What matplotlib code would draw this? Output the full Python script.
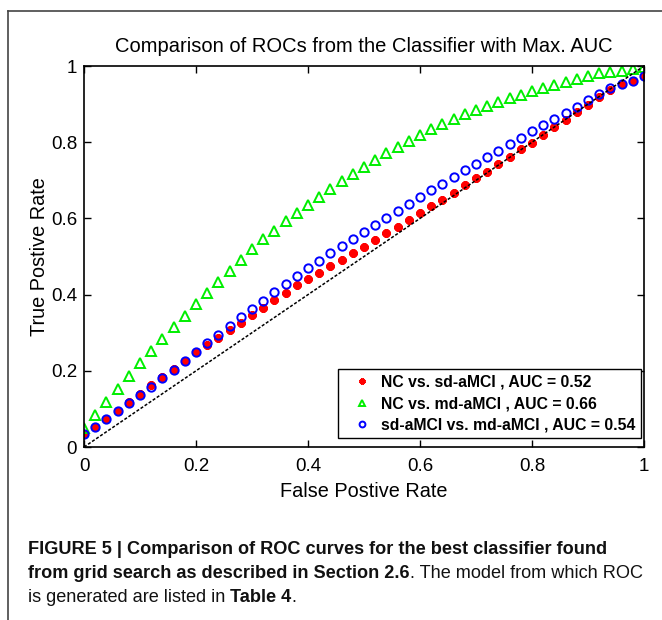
import numpy as np
import matplotlib
matplotlib.use("Agg")
import matplotlib.pyplot as plt
from matplotlib.lines import Line2D

plt.rcParams['font.family'] = ['Liberation Sans', 'DejaVu Sans']

# false positive rate grid (0 to 1, step 0.02)
fpr = [i / 50 for i in range(51)]

tpr_nc_sd = [0.033, 0.053, 0.074, 0.095, 0.117, 0.139, 0.162, 0.184, 0.205, 0.227, 0.250,
             0.268, 0.287, 0.306, 0.326, 0.347, 0.366, 0.386, 0.404, 0.424, 0.441,
             0.458, 0.476, 0.492, 0.509, 0.526, 0.544, 0.561, 0.578, 0.596, 0.614,
             0.632, 0.649, 0.668, 0.687, 0.705, 0.723, 0.742, 0.761, 0.781, 0.799,
             0.818, 0.839, 0.859, 0.879, 0.899, 0.918, 0.936, 0.952, 0.962, 0.974]

tpr_nc_md = [0.051, 0.085, 0.119, 0.153, 0.187, 0.220, 0.253, 0.283, 0.314, 0.343, 0.375,
             0.404, 0.434, 0.463, 0.492, 0.521, 0.547, 0.568, 0.592, 0.615, 0.636,
             0.656, 0.676, 0.697, 0.717, 0.736, 0.753, 0.771, 0.788, 0.803, 0.818,
             0.835, 0.848, 0.861, 0.873, 0.885, 0.896, 0.906, 0.917, 0.925, 0.935,
             0.942, 0.950, 0.958, 0.965, 0.973, 0.981, 0.985, 0.988, 0.991, 0.997]

tpr_sd_md = [0.033, 0.053, 0.074, 0.094, 0.115, 0.136, 0.158, 0.181, 0.203, 0.226, 0.250,
             0.272, 0.295, 0.318, 0.340, 0.362, 0.384, 0.406, 0.428, 0.449, 0.470,
             0.489, 0.508, 0.527, 0.547, 0.565, 0.582, 0.601, 0.619, 0.637, 0.656,
             0.674, 0.691, 0.708, 0.726, 0.743, 0.761, 0.778, 0.795, 0.812, 0.829,
             0.845, 0.861, 0.876, 0.892, 0.911, 0.926, 0.942, 0.953, 0.961, 0.974]

labels = ["NC vs. sd-aMCI , AUC = 0.52",
          "NC vs. md-aMCI , AUC = 0.66",
          "sd-aMCI vs. md-aMCI , AUC = 0.54"]
ticks = [0, 0.2, 0.4, 0.6, 0.8, 1]
tick_labels = ["0", "0.2", "0.4", "0.6", "0.8", "1"]

fig = plt.figure(figsize=(6.62, 6.20), dpi=100)
ax = fig.add_axes([0.1269, 0.2790, 0.8459, 0.6145])

ax.plot(fpr, tpr_nc_sd, linestyle='none', marker=(8, 2, 0), color='red',
        markersize=6, markeredgewidth=2.2, label=labels[0])
ax.plot(fpr, tpr_nc_md, linestyle='none', marker='^', color='#00ee00',
        markerfacecolor='none', markersize=6.5, markeredgewidth=1.4, label=labels[1])
ax.plot(fpr, tpr_sd_md, linestyle='none', marker='o', color='blue',
        markerfacecolor='none', markersize=6, markeredgewidth=1.4, label=labels[2])
ax.plot([0, 1], [0, 1], color='black', linestyle=(0, (2, 1.2)), linewidth=1.1)

ax.set_xlim(0, 1)
ax.set_ylim(0, 1)
ax.set_xticks(ticks)
ax.set_xticklabels(tick_labels)
ax.set_yticks(ticks)
ax.set_yticklabels(tick_labels)
ax.tick_params(direction='in', length=5, width=1, top=True, right=True,
               labelsize=13.5, pad=5)
ax.tick_params(axis='x', pad=8)
for s in ax.spines.values():
    s.set_linewidth(1.2)

ax.set_title("Comparison of ROCs from the Classifier with Max. AUC", fontsize=14.5, pad=10)
ax.set_xlabel("False Postive Rate", fontsize=14.3, labelpad=5)
ax.set_ylabel("True Postive Rate", fontsize=14.3, labelpad=1)

leg = ax.legend(loc='lower right', bbox_to_anchor=(0.995, 0.023), borderaxespad=0,
                fancybox=False, edgecolor='black', framealpha=1, markerscale=0.7,
                prop={'weight': 'bold', 'size': 11.3}, handletextpad=0.1,
                labelspacing=0.43, borderpad=0.35, handlelength=2.3)
leg.get_frame().set_linewidth(1.0)

# page frame lines (top and left)
fig.add_artist(Line2D([8 / 662, 1], [1 - 11 / 620, 1 - 11 / 620], color='#444444', linewidth=1.2))
fig.add_artist(Line2D([8 / 662, 8 / 662], [0, 1 - 11 / 620], color='#444444', linewidth=1.2))

# caption with mixed bold / regular pieces
cap_font = ['Liberation Sans', 'DejaVu Sans']
caption = [
    [("FIGURE 5 | Comparison of ROC curves for the best classifier found", 'bold')],
    [("from grid search as described in Section 2.6", 'bold'),
     (". The model from which ROC", 'normal')],
    [("is generated are listed in ", 'normal'), ("Table 4", 'bold'), (".", 'normal')],
]
line_y = [550, 573, 597]
renderer = fig.canvas.get_renderer()
for pieces, yp in zip(caption, line_y):
    x = 28
    for txt, w in pieces:
        t = fig.text(x / 662, 1 - yp / 620, txt, fontsize=13.1, weight=w,
                     family=cap_font, va='center', ha='left', color='#111111')
        bb = t.get_window_extent(renderer=renderer)
        x += bb.width

fig.savefig("out.png", dpi=100)
